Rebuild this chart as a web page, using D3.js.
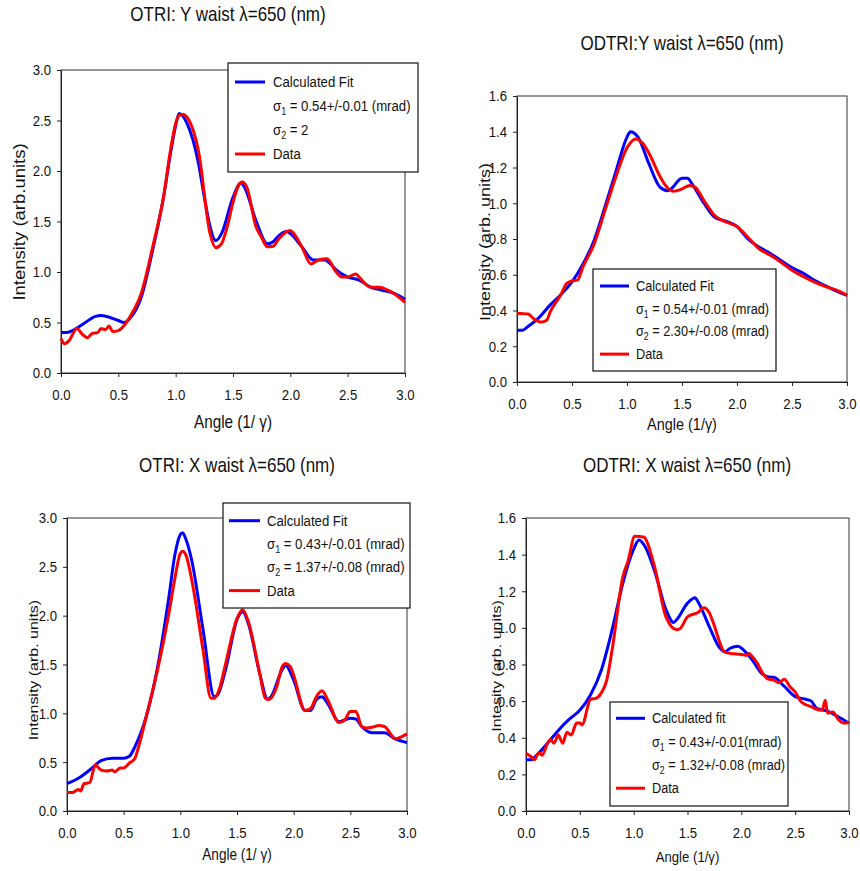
<!DOCTYPE html>
<html>
<head>
<meta charset="utf-8">
<script src="https://cdn.jsdelivr.net/npm/d3@7"></script>
<style>
  body { margin: 0; background: #fff; }
  svg { display: block; font-family: "Liberation Sans", Arial, sans-serif; }
</style>
</head>
<body>
<svg id="chart" width="860" height="871"></svg>
<script>
// values, [angle (1/gamma), intensity]
var otriYFit = [[0,0.40],[0.05,0.40],[0.1,0.42],[0.2,0.49],[0.3,0.56],[0.35,0.57],[0.4,0.56],[0.5,0.52],[0.55,0.50],[0.6,0.54],[0.7,0.75],[0.8,1.22],[0.9,1.78],[0.95,2.14],[1.0,2.45],[1.03,2.57],[1.1,2.47],[1.15,2.31],[1.2,2.07],[1.25,1.74],[1.3,1.45],[1.35,1.31],[1.4,1.38],[1.5,1.74],[1.57,1.88],[1.6,1.84],[1.7,1.51],[1.8,1.28],[1.85,1.30],[1.9,1.36],[1.97,1.40],[2.0,1.38],[2.1,1.25],[2.2,1.12],[2.3,1.12],[2.35,1.08],[2.4,1.02],[2.5,0.95],[2.6,0.92],[2.7,0.85],[2.8,0.82],[2.9,0.79],[3.0,0.73]];
var otriYData = [[0,0.34],[0.03,0.29],[0.07,0.32],[0.14,0.44],[0.18,0.39],[0.23,0.35],[0.27,0.39],[0.32,0.40],[0.35,0.44],[0.39,0.43],[0.42,0.465],[0.45,0.41],[0.5,0.42],[0.55,0.47],[0.6,0.555],[0.7,0.79],[0.8,1.25],[0.9,1.78],[0.95,2.17],[1.0,2.47],[1.03,2.55],[1.07,2.56],[1.1,2.53],[1.2,2.19],[1.3,1.38],[1.35,1.24],[1.4,1.28],[1.45,1.45],[1.5,1.69],[1.55,1.86],[1.58,1.89],[1.62,1.84],[1.7,1.45],[1.75,1.34],[1.8,1.25],[1.85,1.255],[1.9,1.33],[2.0,1.41],[2.03,1.38],[2.1,1.25],[2.18,1.08],[2.25,1.12],[2.32,1.13],[2.4,1.00],[2.45,0.95],[2.5,0.95],[2.57,0.98],[2.6,0.95],[2.7,0.85],[2.78,0.85],[2.85,0.82],[2.9,0.79],[3.0,0.70]];

var odtriYFit = [[0,0.29],[0.05,0.29],[0.1,0.31],[0.2,0.36],[0.3,0.43],[0.4,0.49],[0.5,0.56],[0.6,0.66],[0.7,0.79],[0.8,0.98],[0.9,1.18],[1.0,1.37],[1.03,1.40],[1.1,1.37],[1.2,1.22],[1.3,1.09],[1.37,1.07],[1.4,1.08],[1.5,1.14],[1.55,1.14],[1.6,1.10],[1.7,1.00],[1.8,0.92],[1.9,0.90],[2.0,0.87],[2.1,0.80],[2.2,0.755],[2.3,0.72],[2.4,0.68],[2.5,0.64],[2.6,0.61],[2.7,0.57],[2.8,0.54],[2.9,0.51],[3.0,0.485]];
var odtriYData = [[0,0.385],[0.1,0.38],[0.15,0.355],[0.22,0.335],[0.27,0.345],[0.3,0.39],[0.4,0.49],[0.45,0.55],[0.5,0.565],[0.55,0.57],[0.6,0.645],[0.7,0.77],[0.8,0.96],[0.9,1.15],[1.0,1.31],[1.08,1.36],[1.15,1.33],[1.2,1.28],[1.3,1.15],[1.35,1.10],[1.42,1.067],[1.5,1.08],[1.57,1.10],[1.62,1.09],[1.7,1.015],[1.8,0.93],[1.9,0.895],[2.0,0.87],[2.1,0.81],[2.2,0.745],[2.3,0.71],[2.4,0.67],[2.5,0.625],[2.6,0.59],[2.7,0.56],[2.8,0.535],[2.9,0.515],[3.0,0.485]];

var otriXFit = [[0,0.28],[0.1,0.335],[0.2,0.42],[0.25,0.47],[0.3,0.515],[0.4,0.54],[0.5,0.54],[0.55,0.56],[0.6,0.66],[0.7,0.97],[0.8,1.48],[0.9,2.20],[0.95,2.61],[1.0,2.83],[1.02,2.85],[1.05,2.78],[1.1,2.57],[1.2,1.86],[1.3,1.17],[1.33,1.19],[1.4,1.45],[1.5,1.96],[1.55,2.04],[1.6,1.92],[1.7,1.41],[1.77,1.145],[1.8,1.17],[1.9,1.45],[1.93,1.49],[2.0,1.34],[2.1,1.03],[2.15,1.03],[2.2,1.14],[2.25,1.17],[2.3,1.10],[2.4,0.915],[2.5,0.95],[2.55,0.94],[2.6,0.865],[2.7,0.80],[2.8,0.80],[2.9,0.735],[3.0,0.70]];
var otriXData = [[0,0.19],[0.05,0.19],[0.1,0.22],[0.12,0.205],[0.15,0.28],[0.2,0.29],[0.25,0.47],[0.28,0.44],[0.3,0.42],[0.35,0.41],[0.4,0.42],[0.42,0.40],[0.47,0.44],[0.5,0.44],[0.55,0.49],[0.6,0.54],[0.62,0.61],[0.7,0.97],[0.8,1.45],[0.9,2.03],[0.95,2.37],[1.0,2.64],[1.02,2.66],[1.05,2.62],[1.1,2.37],[1.2,1.65],[1.27,1.155],[1.3,1.155],[1.35,1.27],[1.4,1.51],[1.5,1.97],[1.55,2.06],[1.6,1.94],[1.7,1.41],[1.75,1.155],[1.78,1.14],[1.85,1.27],[1.9,1.48],[1.93,1.51],[1.97,1.48],[2.0,1.39],[2.1,1.03],[2.15,1.05],[2.2,1.17],[2.25,1.23],[2.3,1.14],[2.4,0.905],[2.45,0.93],[2.5,1.02],[2.55,1.02],[2.6,0.865],[2.65,0.85],[2.7,0.86],[2.75,0.875],[2.8,0.865],[2.9,0.74],[2.95,0.76],[3.0,0.79]];

var odtriXFit = [[0,0.28],[0.05,0.28],[0.1,0.305],[0.2,0.37],[0.3,0.44],[0.4,0.50],[0.5,0.55],[0.6,0.635],[0.7,0.77],[0.8,0.99],[0.9,1.245],[1.0,1.43],[1.05,1.48],[1.1,1.45],[1.2,1.30],[1.3,1.10],[1.37,1.03],[1.4,1.045],[1.5,1.135],[1.57,1.165],[1.6,1.14],[1.7,1.01],[1.8,0.89],[1.85,0.87],[1.9,0.89],[1.97,0.90],[2.0,0.89],[2.1,0.825],[2.2,0.745],[2.28,0.73],[2.3,0.73],[2.4,0.68],[2.5,0.625],[2.6,0.61],[2.65,0.60],[2.7,0.56],[2.8,0.545],[2.9,0.515],[3.0,0.48]];
var odtriXData = [[0,0.315],[0.05,0.295],[0.08,0.28],[0.12,0.32],[0.15,0.305],[0.2,0.37],[0.23,0.39],[0.26,0.37],[0.3,0.415],[0.34,0.37],[0.38,0.43],[0.42,0.415],[0.47,0.48],[0.5,0.48],[0.52,0.47],[0.6,0.61],[0.65,0.615],[0.7,0.645],[0.75,0.715],[0.8,0.88],[0.9,1.28],[0.95,1.37],[1.01,1.50],[1.1,1.495],[1.12,1.475],[1.2,1.32],[1.3,1.06],[1.4,0.99],[1.43,0.995],[1.5,1.06],[1.6,1.085],[1.65,1.11],[1.7,1.085],[1.75,1.01],[1.8,0.92],[1.84,0.87],[1.9,0.86],[2.0,0.855],[2.05,0.85],[2.07,0.86],[2.1,0.845],[2.15,0.805],[2.2,0.75],[2.25,0.72],[2.3,0.715],[2.35,0.70],[2.4,0.72],[2.45,0.68],[2.5,0.65],[2.55,0.60],[2.6,0.58],[2.65,0.57],[2.7,0.555],[2.75,0.55],[2.78,0.605],[2.8,0.535],[2.85,0.54],[2.9,0.50],[2.95,0.48],[3.0,0.485]];

var xTicks = [0, 0.5, 1.0, 1.5, 2.0, 2.5, 3.0];
var yTicksWide = [0, 0.5, 1.0, 1.5, 2.0, 2.5, 3.0];
var yTicksNarrow = [0, 0.2, 0.4, 0.6, 0.8, 1.0, 1.2, 1.4, 1.6];

var titles = ["OTRI: Y waist \u03bb=650 (nm)", "ODTRI:Y waist \u03bb=650 (nm)", "OTRI: X waist \u03bb=650 (nm)", "ODTRI: X waist \u03bb=650 (nm)"];
var xLabels = ["Angle (1/ \u03b3)", "Angle (1/\u03b3)", "Angle (1/ \u03b3)", "Angle (1/\u03b3)"];
var yLabels = ["Intensity (arb.units)", "Intensity (arb. units)", "Intensity (arb. units)", "Intesity (arb. units)"];
var fitNames = ["Calculated Fit", "Calculated Fit", "Calculated Fit", "Calculated fit"];
var sigma1 = [" = 0.54+/-0.01 (mrad)", " = 0.54+/-0.01 (mrad)", " = 0.43+/-0.01 (mrad)", " = 0.43+/-0.01(mrad)"];
var sigma2 = [" = 2", " = 2.30+/-0.08 (mrad)", " = 1.37+/-0.08 (mrad)", " = 1.32+/-0.08 (mrad)"];

var SX = 0.85; // the figure's text is squeezed horizontally
var blue = "#0000ff", red = "#ff0000";

var panels = [
    {fit: otriYFit, data: otriYData, yTicks: yTicksWide, yMax: 3,
     box: {l: 61, r: 405, t: 70, b: 373}, titleX: 228, titleY: 21,
     xLabelY: 428, xLabelSize: 18, yLabelX: 25, yLabelY: 222, yLabelSize: 18.5,
     legend: {x: 228, y: 63, w: 190, h: 109, first: 19, row: 24, lineX: 7, lineW: 30, textX: 45, size: 15.5}},
    {fit: odtriYFit, data: odtriYData, yTicks: yTicksNarrow, yMax: 1.6,
     box: {l: 517, r: 847, t: 96, b: 382}, titleX: 682, titleY: 50,
     xLabelY: 430, xLabelSize: 17, yLabelX: 490, yLabelY: 242, yLabelSize: 18,
     legend: {x: 593, y: 269, w: 183, h: 102, first: 17, row: 22.7, lineX: 7, lineW: 29, textX: 43, size: 15}},
    {fit: otriXFit, data: otriXData, yTicks: yTicksWide, yMax: 3,
     box: {l: 67, r: 407, t: 518, b: 811}, titleX: 237, titleY: 472,
     xLabelY: 860, xLabelSize: 16, yLabelX: 38, yLabelY: 670, yLabelSize: 16,
     legend: {x: 223, y: 503, w: 187, h: 105, first: 17.7, row: 23.3, lineX: 6, lineW: 31, textX: 44, size: 15.5}},
    {fit: odtriXFit, data: odtriXData, yTicks: yTicksNarrow, yMax: 1.6,
     box: {l: 526, r: 849, t: 518, b: 811}, titleX: 687, titleY: 472,
     xLabelY: 862, xLabelSize: 15.5, yLabelX: 501, yLabelY: 666, yLabelSize: 16,
     legend: {x: 610, y: 702, w: 178, h: 104, first: 16.3, row: 23.3, lineX: 6, lineW: 29, textX: 42, size: 15}}
];

var svg = d3.select("#chart");

function squeezed(sel, x, y, txt, size, anchor){
    return sel.append("text")
        .attr("transform", "translate(" + x + "," + y + ") scale(" + SX + ",1)")
        .attr("text-anchor", anchor || "middle")
        .style("font-size", size + "px")
        .attr("fill", "#111")
        .text(txt);
}

function sigmaLine(sel, x, y, idx, rest, size){
    var t = sel.append("text")
        .attr("transform", "translate(" + x + "," + y + ") scale(" + SX + ",1)")
        .style("font-size", size + "px")
        .attr("fill", "#111");
    t.append("tspan").text("\u03c3");
    t.append("tspan").attr("dy", 4).style("font-size", (size * 0.68) + "px").text(idx);
    t.append("tspan").attr("dy", -4).text(rest);
}

panels.forEach(function(p, i){
    var x = d3.scaleLinear().domain([0, 3]).range([p.box.l, p.box.r]);
    var y = d3.scaleLinear().domain([0, p.yMax]).range([p.box.b, p.box.t]);
    var g = svg.append("g");

    // frame
    g.append("rect")
        .attr("x", x(0)).attr("y", y(p.yMax))
        .attr("width", x(3) - x(0)).attr("height", y(0) - y(p.yMax))
        .attr("fill", "none").attr("stroke", "#333").attr("stroke-width", 1);

    var xAxis = d3.axisBottom(x).tickValues(xTicks).tickFormat(d3.format(".1f"))
        .tickSize(4).tickSizeOuter(0).tickPadding(12);
    var yAxis = d3.axisLeft(y).tickValues(p.yTicks).tickFormat(d3.format(".1f"))
        .tickSize(4).tickSizeOuter(0).tickPadding(6);

    var gx = g.append("g").attr("transform", "translate(0," + y(0) + ")").call(xAxis);
    var gy = g.append("g").attr("transform", "translate(" + x(0) + ",0)").call(yAxis);
    [gx, gy].forEach(function(a){
        a.attr("font-family", null).attr("font-size", null);
        a.select(".domain").attr("stroke", "#222");
        a.selectAll(".tick line").attr("stroke", "#222");
        a.selectAll("text").style("font-size", "15.5px").attr("fill", "#111");
    });
    gx.selectAll("text").attr("transform", "scale(" + SX + ",1)");
    gy.selectAll("text").attr("transform", "scale(" + SX + ",1)").attr("x", -10 / SX);

    // curves: fit first, data on top
    var line = d3.line()
        .x(function(d){ return x(d[0]); })
        .y(function(d){ return y(d[1]); })
        .curve(d3.curveMonotoneX);
    g.append("path").datum(p.fit).attr("d", line)
        .attr("fill", "none").attr("stroke", blue).attr("stroke-width", 3)
        .attr("stroke-linejoin", "round");
    g.append("path").datum(p.data).attr("d", line)
        .attr("fill", "none").attr("stroke", red).attr("stroke-width", 3)
        .attr("stroke-linejoin", "round");

    // titles and axis labels
    squeezed(g, p.titleX, p.titleY, titles[i], 20);
    squeezed(g, (p.box.l + p.box.r) / 2, p.xLabelY, xLabels[i], p.xLabelSize);
    g.append("text")
        .attr("transform", "translate(" + p.yLabelX + "," + p.yLabelY + ") scale(" + SX + ",1) rotate(-90)")
        .attr("text-anchor", "middle")
        .style("font-size", p.yLabelSize + "px")
        .attr("fill", "#111")
        .text(yLabels[i]);

    // legend
    var L = p.legend;
    var lg = g.append("g");
    lg.append("rect")
        .attr("x", L.x).attr("y", L.y).attr("width", L.w).attr("height", L.h)
        .attr("fill", "#fff").attr("stroke", "#111").attr("stroke-width", 1.2);
    var rows = [L.y + L.first, L.y + L.first + L.row, L.y + L.first + 2 * L.row, L.y + L.first + 3 * L.row];
    lg.append("line")
        .attr("x1", L.x + L.lineX).attr("x2", L.x + L.lineX + L.lineW)
        .attr("y1", rows[0]).attr("y2", rows[0])
        .attr("stroke", blue).attr("stroke-width", 3);
    lg.append("line")
        .attr("x1", L.x + L.lineX).attr("x2", L.x + L.lineX + L.lineW)
        .attr("y1", rows[3]).attr("y2", rows[3])
        .attr("stroke", red).attr("stroke-width", 3);
    squeezed(lg, L.x + L.textX, rows[0] + 5, fitNames[i], L.size, "start");
    sigmaLine(lg, L.x + L.textX, rows[1] + 5, "1", sigma1[i], L.size);
    sigmaLine(lg, L.x + L.textX, rows[2] + 5, "2", sigma2[i], L.size);
    squeezed(lg, L.x + L.textX, rows[3] + 5, "Data", L.size, "start");
});
</script>
</body>
</html>
